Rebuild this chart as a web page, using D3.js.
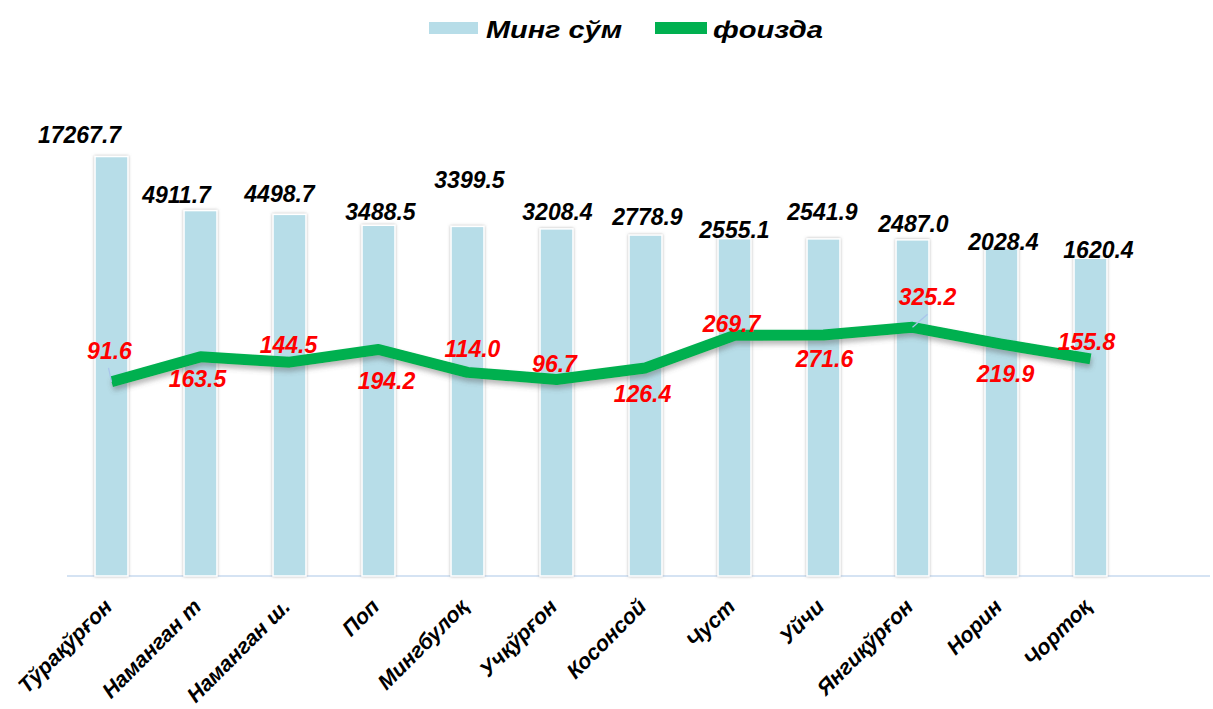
<!DOCTYPE html>
<meta charset="utf-8">
<style>
    body { margin: 0; background: #fff; }
    svg text { font-family: "Liberation Sans", Arial, sans-serif; font-weight: bold; font-style: italic; }
    .barlabel { fill: #000; font-size: 23px; }
    .linelabel { fill: #FF0000; font-size: 23px; }
    .cat { fill: #000; font-size: 21.5px; }
    .legend text { fill: #000; font-size: 24px; }
</style>
<body>
<script src="https://d3js.org/d3.v7.min.js"></script>
<script>

    // data
    var categories = ["Тўрақўрғон", "Наманган т", "Наманган ш.", "Поп", "Мингбулоқ", "Учқўрғон",
                      "Косонсой", "Чуст", "Уйчи", "Янгиқўрғон", "Норин", "Чортоқ"];
    var sumValues = [17267.7, 4911.7, 4498.7, 3488.5, 3399.5, 3208.4, 2778.9, 2555.1, 2541.9, 2487.0, 2028.4, 1620.4];
    var percentValues = [91.6, 163.5, 144.5, 194.2, 114.0, 96.7, 126.4, 269.7, 271.6, 325.2, 219.9, 155.8];
    var seriesNames = ["Минг сўм", "фоизда"];

    // hand-placed label nudges (dx, dy) as in the original
    var barLabelNudge = [[-32,-14],[-24,-8],[-10,-12],[2,-5],[2,-38],[1,-9],[2,-10],[0,-1],[-1,-19],[1,-8],[2,1],[8,0]];
    var lineLabelNudge = [[-2,-23],[-3,30],[-1,-9],[8,40],[5,-15],[-2,-7],[-3,34],[-3,-3],[1,32],[15,-22],[4,38],[-4,-9]];
    var leaderIdx = [0, 9];

    var W = 1213, H = 709;
    var barColor = "#B7DDE8", lineColor = "#00B050";

    var svg = d3.select("body").append("svg")
        .attr("width", W)
        .attr("height", H);

    var defs = svg.append("defs");
    defs.append("filter").attr("id", "barShadow")
        .attr("x", "-30%").attr("y", "-5%").attr("width", "160%").attr("height", "110%")
      .append("feDropShadow")
        .attr("dx", 0).attr("dy", 0).attr("stdDeviation", 1.8)
        .attr("flood-color", "#777").attr("flood-opacity", 0.55);
    defs.append("filter").attr("id", "lineShadow")
        .attr("x", "-5%").attr("y", "-30%").attr("width", "110%").attr("height", "160%")
      .append("feDropShadow")
        .attr("dx", 1).attr("dy", 4).attr("stdDeviation", 2.5)
        .attr("flood-color", "#555").attr("flood-opacity", 0.4);

    var x = d3.scaleBand()
        .domain(categories)
        .range([67, 1135])
        .paddingInner(0.63)
        .paddingOuter(0.315);

    var y = d3.scaleLog()
        .domain([1, 10000])
        .range([576, 180]);

    var cx = function(i) { return x(categories[i]) + x.bandwidth() / 2; };

    // axis line
    svg.append("line")
        .attr("x1", 67).attr("x2", 1210)
        .attr("y1", y(1)).attr("y2", y(1))
        .attr("stroke", "#D5E3F3").attr("stroke-width", 2);

    // bars
    svg.append("g").attr("class", "bars")
      .selectAll("rect")
      .data(sumValues)
      .join("rect")
        .attr("x", function(d, i) { return x(categories[i]); })
        .attr("width", x.bandwidth())
        .attr("y", function(d) { return y(d); })
        .attr("height", function(d) { return y(1) - y(d); })
        .attr("fill", barColor)
        .attr("stroke", "#fff")
        .attr("stroke-width", 1.5)
        .attr("filter", "url(#barShadow)");

    // category labels
    svg.append("g").attr("class", "cats")
      .selectAll("text")
      .data(categories)
      .join("text")
        .attr("class", "cat")
        .attr("text-anchor", "end")
        .attr("transform", function(d, i) {
            return "translate(" + (cx(i) + 2) + "," + 608 + ") rotate(-45)";
        })
        .text(function(d) { return d; });

    // bar value labels
    svg.append("g")
      .selectAll("text")
      .data(sumValues)
      .join("text")
        .attr("class", "barlabel")
        .attr("text-anchor", "middle")
        .attr("x", function(d, i) { return cx(i) + barLabelNudge[i][0]; })
        .attr("y", function(d, i) { return y(d) + barLabelNudge[i][1]; })
        .text(function(d) { return d.toFixed(1); });

    // line
    var line = d3.line()
        .x(function(d, i) { return cx(i); })
        .y(function(d) { return y(d); });

    svg.append("path")
        .datum(percentValues)
        .attr("d", line)
        .attr("fill", "none")
        .attr("stroke", lineColor)
        .attr("stroke-width", 11)
        .attr("stroke-linejoin", "round")
        .attr("filter", "url(#lineShadow)");

    // leader lines for moved labels
    svg.append("g")
      .selectAll("line")
      .data(leaderIdx)
      .join("line")
        .attr("x1", function(i) { return cx(i); })
        .attr("y1", function(i) { return y(percentValues[i]); })
        .attr("x2", function(i) { return cx(i) + (i === 0 ? -3 : 15); })
        .attr("y2", function(i) { return y(percentValues[i]) + lineLabelNudge[i][1] + 9; })
        .attr("stroke", "#A9C4EB")
        .attr("stroke-width", 1.2);

    // line value labels
    svg.append("g")
      .selectAll("text")
      .data(percentValues)
      .join("text")
        .attr("class", "linelabel")
        .attr("text-anchor", "middle")
        .attr("x", function(d, i) { return cx(i) + lineLabelNudge[i][0]; })
        .attr("y", function(d, i) { return y(d) + lineLabelNudge[i][1]; })
        .text(function(d) { return d.toFixed(1); });

    // legend
    var legend = svg.append("g").attr("class", "legend");
    legend.append("rect")
        .attr("x", 429).attr("y", 22).attr("width", 49).attr("height", 12)
        .attr("fill", barColor);
    legend.append("text")
        .attr("x", 486).attr("y", 38)
        .attr("textLength", 136).attr("lengthAdjust", "spacingAndGlyphs")
        .text(seriesNames[0]);
    legend.append("rect")
        .attr("x", 655).attr("y", 22).attr("width", 52).attr("height", 12)
        .attr("fill", lineColor);
    legend.append("text")
        .attr("x", 713).attr("y", 38)
        .attr("textLength", 110).attr("lengthAdjust", "spacingAndGlyphs")
        .text(seriesNames[1]);

</script>
</body>
